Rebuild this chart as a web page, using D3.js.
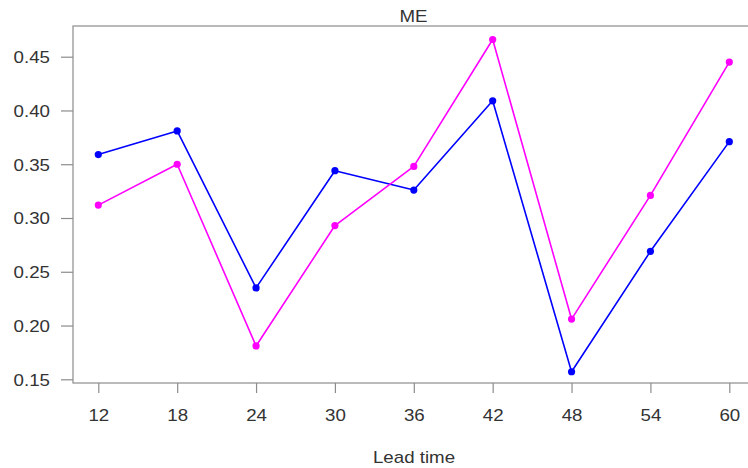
<!DOCTYPE html>
<html>
<head>
<meta charset="utf-8">
<script src="https://cdn.jsdelivr.net/npm/d3@7"></script>
<style>
  html, body { margin: 0; padding: 0; background: #fff; }
  svg { display: block; }
  text { font-family: "Liberation Sans", Arial, Helvetica, sans-serif; fill: #333; }
</style>
</head>
<body>
<svg id="chart" width="748" height="468"></svg>
<script>
// Lead times (hours) and mean error for the two forecast series
const leadTimes = [12, 18, 24, 30, 36, 42, 48, 54, 60];
const seriesBlue = [0.359, 0.381, 0.235, 0.344, 0.326, 0.409, 0.157, 0.269, 0.371];
const seriesMagenta = [0.312, 0.350, 0.181, 0.293, 0.348, 0.466, 0.206, 0.321, 0.445];
const yTicks = [0.15, 0.20, 0.25, 0.30, 0.35, 0.40, 0.45];
const xTicks = [12, 18, 24, 30, 36, 42, 48, 54, 60];

const series = [
  { name: "blue", values: seriesBlue, color: "#0000ff" },
  { name: "magenta", values: seriesMagenta, color: "#ff00ff" }
];

const W = 748, H = 468;
const box = { left: 73, top: 26, right: 760, bottom: 383 };
const TX = 1.17; // horizontal text stretch
const axisColor = "#8c8c8c";

const svg = d3.select("#chart");

const x = d3.scaleLinear().domain([12, 60]).range([98.3, 729.3]);
const y = d3.scaleLinear().domain([0.15, 0.45]).range([379.3, 56.7]);

// Plot frame
svg.append("rect")
  .attr("x", box.left).attr("y", box.top)
  .attr("width", box.right - box.left).attr("height", box.bottom - box.top)
  .attr("fill", "none").attr("stroke", axisColor).attr("stroke-width", 1.2);

// Y axis
const yAxis = svg.append("g")
  .attr("transform", `translate(${box.left},0)`)
  .call(d3.axisLeft(y).tickValues(yTicks).tickFormat(d3.format(".2f")).tickSize(12).tickPadding(0));
yAxis.select(".domain").remove();
yAxis.selectAll(".tick line").attr("stroke", axisColor).attr("stroke-width", 1.2);
yAxis.selectAll(".tick text")
  .attr("x", null).attr("dy", null).attr("y", 5.8)
  .attr("transform", `translate(-23,0) scale(${TX},1)`)
  .attr("text-anchor", "end")
  .style("font-size", "16px").style("font-family", null).attr("fill", "#333");

// X axis
const xAxis = svg.append("g")
  .attr("transform", `translate(0,${box.bottom})`)
  .call(d3.axisBottom(x).tickValues(xTicks).tickFormat(d3.format("d")).tickSize(10).tickPadding(0));
xAxis.select(".domain").remove();
xAxis.selectAll(".tick line").attr("stroke", axisColor).attr("stroke-width", 1.2);
xAxis.selectAll(".tick text")
  .attr("y", null).attr("dy", null)
  .attr("transform", `translate(0,38) scale(${TX},1)`)
  .attr("text-anchor", "middle")
  .style("font-size", "16px").style("font-family", null).attr("fill", "#333");

// Title and axis label
svg.append("text")
  .attr("transform", `translate(413.5,21.5) scale(${TX},1)`)
  .attr("text-anchor", "middle").style("font-size", "16px")
  .text("ME");
svg.append("text")
  .attr("transform", `translate(414,463) scale(${TX},1)`)
  .attr("text-anchor", "middle").style("font-size", "16px")
  .text("Lead time");

// Series lines and points
const line = d3.line().x((d, i) => x(leadTimes[i])).y(d => y(d));
series.forEach(s => {
  svg.append("path")
    .datum(s.values)
    .attr("d", line)
    .attr("fill", "none")
    .attr("stroke", s.color)
    .attr("stroke-width", 1.6)
    .attr("stroke-linejoin", "round");
  svg.append("g").selectAll("circle")
    .data(s.values)
    .join("circle")
    .attr("cx", (d, i) => x(leadTimes[i]))
    .attr("cy", d => y(d))
    .attr("r", 3.6)
    .attr("fill", s.color);
});
</script>
</body>
</html>
